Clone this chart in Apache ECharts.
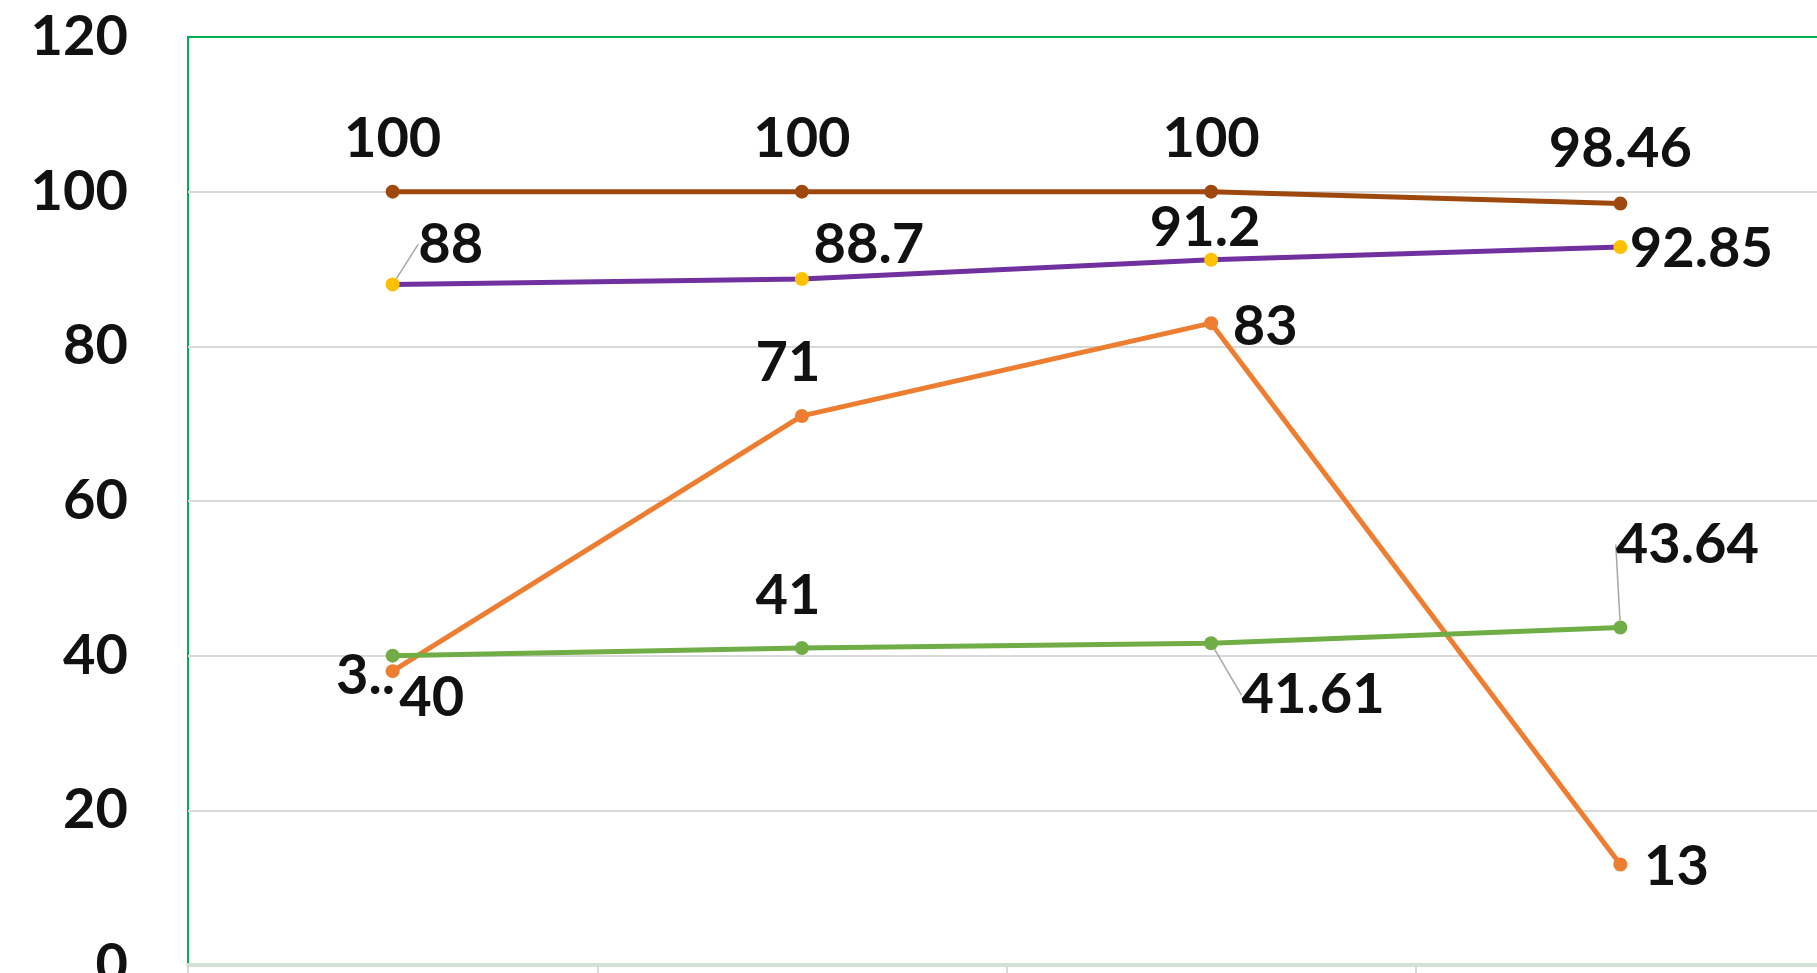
<!DOCTYPE html>
<html>
<head>
<meta charset="utf-8">
<script src="https://cdn.jsdelivr.net/npm/echarts@6/dist/echarts.min.js"></script>
<style>
html, body { margin: 0; padding: 0; background: #fff; }
#chart { width: 1817px; height: 973px; }
</style>
</head>
<body>
<div id="chart"></div>
<script>
// data
const categories = ['1', '2', '3', '4'];
const brownValues = [100, 100, 100, 98.46];
const purpleValues = [88, 88.7, 91.2, 92.85];
const orangeValues = [38, 71, 83, 13];
const greenValues = [40, 41, 41.61, 43.64];
const yMin = 0;
const yMax = 120;
const yStep = 20;

// label placement (px from the point), kept apart from the values
const brownOffsets = [[0, -53], [0, -53], [0, -53], [0, -55]];
const purpleOffsets = [[58, -40], [67, -34], [-6, -32], [81, 2]];
const orangeOffsets = [[-27, 5], [-14, -53], [54, 4], [56, 2]];
const greenOffsets = [[39, 42], [-14, -52], [102, 52], [67, -83]];
const purpleLeaders = [true, false, false, false];
const greenLeaders = [false, false, true, true];
const orangeTexts = ['3..', null, null, null];

const font = 'Lato';
const textColor = '#111111';

function makeData(values, leaders, texts) {
    return values.map(function (v, i) {
        let item = { value: v };
        if (leaders && leaders[i]) {
            item.labelLine = { show: true, lineStyle: { color: '#a6a6a6', width: 1.5 } };
        }
        if (texts && texts[i]) {
            item.label = { formatter: texts[i] };
        }
        return item;
    });
}

function makeSeries(name, values, offsets, lineColor, markColor, leaders, texts) {
    return {
        name: name,
        type: 'line',
        data: makeData(values, leaders, texts),
        symbol: 'circle',
        symbolSize: 14,
        lineStyle: { color: lineColor, width: 5 },
        itemStyle: { color: markColor },
        label: {
            show: true,
            position: 'inside',
            color: textColor,
            fontFamily: font,
            fontWeight: 'bold',
            fontSize: 56
        },
        labelLayout: function (params) {
            const o = offsets[params.dataIndex];
            return { dx: o[0], dy: o[1] };
        },
        animation: false
    };
}

const chart = echarts.init(document.getElementById('chart'));
chart.setOption({
    backgroundColor: '#fff',
    grid: {
        left: 188,
        right: -8,
        top: 37,
        bottom: 8,
        outerBoundsMode: 'none',
        containLabel: false,
        show: true,
        borderColor: '#00b050',
        borderWidth: 2
    },
    xAxis: {
        type: 'category',
        data: categories,
        axisLine: { lineStyle: { color: '#d3e2d9', width: 4 } },
        axisTick: { show: true, length: 8, lineStyle: { color: '#d9d9d9', width: 2 } },
        axisLabel: { show: false },
        splitLine: { show: false }
    },
    yAxis: {
        type: 'value',
        min: yMin,
        max: yMax,
        interval: yStep,
        axisLine: { show: false },
        axisTick: { show: false },
        axisLabel: {
            color: textColor,
            fontFamily: font,
            fontWeight: 'bold',
            fontSize: 56,
            margin: 60
        },
        splitLine: {
            show: true,
            showMinLine: false,
            showMaxLine: false,
            lineStyle: { color: '#d9d9d9', width: 2 }
        }
    },
    series: [
        makeSeries('orange', orangeValues, orangeOffsets, '#ED7D31', '#ED7D31', null, orangeTexts),
        makeSeries('green', greenValues, greenOffsets, '#70AD47', '#70AD47', greenLeaders, null),
        makeSeries('purple', purpleValues, purpleOffsets, '#7030A0', '#FFC000', purpleLeaders, null),
        makeSeries('brown', brownValues, brownOffsets, '#9E480E', '#9E480E', null, null)
    ]
});
</script>
</body>
</html>
